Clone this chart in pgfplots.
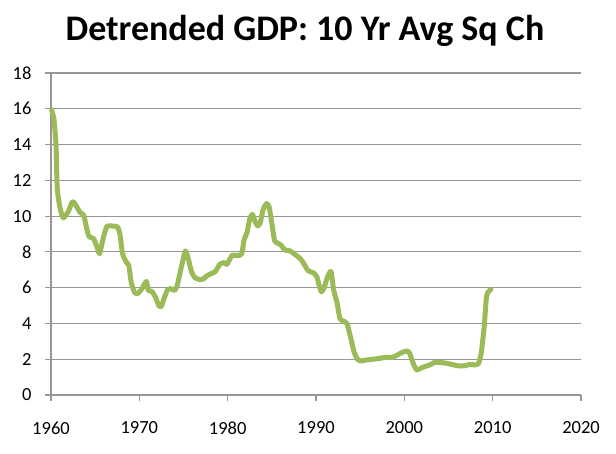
\documentclass[border=0pt]{standalone}
\usepackage{pgfplots}
\pgfplotsset{compat=1.18}
\usepackage{fontspec}
\setmainfont{Carlito}
\definecolor{linegreen}{RGB}{155,187,89}
\definecolor{gridgray}{RGB}{150,150,150}
\begin{document}
\begin{tikzpicture}[x=1pt,y=1pt]
\path[use as bounding box] (0,0) rectangle (616,454);
\node[anchor=base, font=\fontsize{36}{42}\selectfont\bfseries] at (305,413) {Detrended GDP: 10 Yr Avg Sq Ch};
\begin{axis}[
  at={(51pt,59pt)}, anchor=south west,
  scale only axis, width=530pt, height=322pt,
  xmin=1960, xmax=2020, ymin=0, ymax=18,
  xtick={1960,1970,...,2020}, ytick={0,2,...,18},
  axis lines*=left,
  axis line style={draw=gridgray, line width=1.2pt},
  ymajorgrids, major grid style={draw=gridgray, line width=1.2pt},
  tick align=outside, major tick length=6pt,
  tick style={draw=gridgray, line width=1.2pt},
  /pgf/number format/1000 sep={},
  /pgf/number format/assume math mode=true,
  ticklabel style={font=\fontsize{18.5}{22}\selectfont},
  xticklabel style={yshift=-17pt},
  yticklabel style={xshift=-10pt},
  clip=false,
]
\addplot[linegreen, line width=5pt, line cap=round, line join=round, smooth, tension=0.35] coordinates {
(1960.08,15.9) (1960.34,15.4) (1960.57,13.9) (1960.7,11.6) (1961.0,10.5) (1961.4,9.9)
(1962.0,10.3) (1962.4,10.8) (1962.7,10.7) (1963.3,10.2) (1963.7,10.05) (1964.0,9.4)
(1964.3,8.85) (1964.8,8.75) (1965.2,8.3) (1965.5,7.9) (1965.9,8.75) (1966.3,9.4)
(1966.7,9.45) (1967.5,9.4) (1967.8,9.0) (1968.1,7.9) (1968.5,7.45) (1968.8,7.25)
(1969.1,6.25) (1969.5,5.7) (1969.9,5.7) (1970.3,5.95) (1970.8,6.35) (1971.0,5.85)
(1971.4,5.8) (1971.8,5.5) (1972.2,5.0) (1972.5,4.95) (1972.8,5.4) (1973.2,5.9)
(1973.5,5.95) (1974.0,5.85) (1974.3,6.15) (1974.8,7.25) (1975.2,8.05) (1975.5,7.7)
(1975.9,6.9) (1976.3,6.55) (1976.9,6.45) (1977.3,6.5) (1977.6,6.65) (1978.2,6.8)
(1978.6,6.9) (1979.1,7.3) (1979.6,7.4) (1979.9,7.3) (1980.1,7.45) (1980.5,7.8)
(1981.2,7.8) (1981.6,7.9) (1981.85,8.65) (1982.2,9.1) (1982.5,9.85) (1982.8,10.1)
(1983.1,9.7) (1983.4,9.45) (1983.7,9.65) (1984.0,10.35) (1984.4,10.7) (1984.7,10.5)
(1985.0,9.6) (1985.3,8.65) (1985.6,8.5) (1986.0,8.4) (1986.5,8.1) (1987.06,8.06)
(1987.6,7.86) (1988.2,7.63) (1988.6,7.36) (1989.1,6.95) (1989.7,6.83) (1990.1,6.6)
(1990.4,6.05) (1990.6,5.77) (1990.9,5.96) (1991.3,6.6) (1991.7,6.9) (1992.0,5.87)
(1992.4,5.12) (1992.7,4.28) (1993.1,4.13) (1993.5,4.0) (1993.9,3.26) (1994.3,2.42)
(1994.7,2.0) (1995.1,1.9) (1995.7,1.96) (1996.5,2.0) (1997.25,2.05) (1997.8,2.1)
(1998.6,2.1) (1999.2,2.23) (1999.7,2.37) (2000.3,2.46) (2000.6,2.33) (2001.0,1.77)
(2001.4,1.4) (2002.0,1.53) (2002.5,1.62) (2002.9,1.68) (2003.4,1.82) (2004.05,1.82)
(2004.8,1.77) (2005.6,1.68) (2006.3,1.62) (2006.9,1.64) (2007.4,1.71) (2008.0,1.68)
(2008.4,1.77) (2008.7,2.33) (2009.0,3.63) (2009.15,4.56) (2009.3,5.5) (2009.5,5.77)
(2009.8,5.9)
};
\end{axis}
\end{tikzpicture}
\end{document}
